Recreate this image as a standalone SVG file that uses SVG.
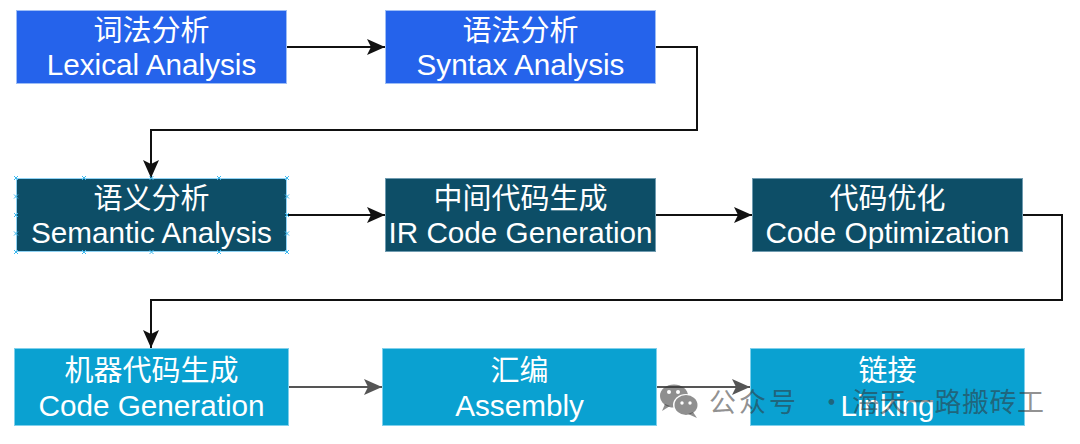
<svg xmlns="http://www.w3.org/2000/svg" xmlns:xlink="http://www.w3.org/1999/xlink" width="1080" height="444" viewBox="0 0 1080 444">
<style>
.t{font-family:"Liberation Sans","Noto Sans CJK SC",sans-serif;font-size:29px;fill:#ffffff;text-anchor:middle}
.e{font-size:29.7px}
.r1{fill:#2563eb;stroke:#9dbdf6;stroke-width:1}
.r2{fill:#0d4e67;stroke:#6f9bb0;stroke-width:1}
.r3{fill:#0aa1d1;stroke:#7fd0ec;stroke-width:1}
.c{fill:none;stroke:#111111;stroke-width:2}
.g{fill:none;stroke:#555555;stroke-width:2}
.hx{fill:none;stroke:#3bb8ee;stroke-width:1}
.wm{font-family:"Noto Sans CJK SC","Liberation Sans",sans-serif;font-size:27px;fill:#333333;fill-opacity:0.55}
</style>
<defs>
<marker id="ab" viewBox="0 0 18 16" markerUnits="userSpaceOnUse" markerWidth="18" markerHeight="16" refX="18" refY="8" orient="auto">
<path d="M0,0 L18,8 L0,16 L4,8 Z" fill="#111111"/>
</marker>
<marker id="ag" viewBox="0 0 18 16" markerUnits="userSpaceOnUse" markerWidth="18" markerHeight="16" refX="18" refY="8" orient="auto">
<path d="M0,0 L18,8 L0,16 L4,8 Z" fill="#555555"/>
</marker>
<path id="hx" class="hx" d="M-2,-2 L2,2 M-2,2 L2,-2"/>
</defs>

<g id="connectors">
<path class="c" d="M287,47 H385" marker-end="url(#ab)"/>
<path class="c" d="M655,47 H697 V130 H151 V178" marker-end="url(#ab)"/>
<path class="c" d="M287,215 H385" marker-end="url(#ab)"/>
<path class="c" d="M655,215 H752" marker-end="url(#ab)"/>
<path class="c" d="M1022,215 H1062 V300 H151 V348" marker-end="url(#ab)"/>
<path class="g" d="M288,387 H382" marker-end="url(#ag)"/>
<path class="g" d="M656,387 H750" marker-end="url(#ag)"/>
</g>

<g id="lexical">
<rect class="r1" x="16.5" y="10.5" width="270" height="73"/>
<text class="t" x="151.5" y="41">词法分析</text>
<text class="t e" x="151.5" y="75">Lexical Analysis</text>
</g>
<g id="syntax">
<rect class="r1" x="385.5" y="10.5" width="270" height="73"/>
<text class="t" x="520.5" y="41">语法分析</text>
<text class="t e" x="520.5" y="75">Syntax Analysis</text>
</g>
<g id="semantic">
<rect class="r2" x="16.5" y="178.5" width="270" height="73" style="stroke:#8fd3f5"/>
<text class="t" x="151.5" y="209">语义分析</text>
<text class="t e" x="151.5" y="243">Semantic Analysis</text>
<use href="#hx" x="16" y="178"/><use href="#hx" x="84" y="178"/><use href="#hx" x="151.5" y="178"/><use href="#hx" x="219" y="178"/><use href="#hx" x="287" y="178"/>
<use href="#hx" x="16" y="252"/><use href="#hx" x="84" y="252"/><use href="#hx" x="151.5" y="252"/><use href="#hx" x="219" y="252"/><use href="#hx" x="287" y="252"/>
<use href="#hx" x="16" y="196.5"/><use href="#hx" x="16" y="215"/><use href="#hx" x="16" y="233.5"/>
<use href="#hx" x="287" y="196.5"/><use href="#hx" x="287" y="215"/><use href="#hx" x="287" y="233.5"/>
</g>
<g id="ir">
<rect class="r2" x="385.5" y="178.5" width="270" height="73"/>
<text class="t" x="520.5" y="209">中间代码生成</text>
<text class="t e" x="520.5" y="243">IR Code Generation</text>
</g>
<g id="optimization">
<rect class="r2" x="752.5" y="178.5" width="270" height="73"/>
<text class="t" x="887.5" y="209">代码优化</text>
<text class="t e" x="887.5" y="243">Code Optimization</text>
</g>
<g id="codegen">
<rect class="r3" x="14.5" y="348.5" width="274" height="77"/>
<text class="t" x="151.5" y="381">机器代码生成</text>
<text class="t e" x="151.5" y="416">Code Generation</text>
</g>
<g id="assembly">
<rect class="r3" x="382.5" y="348.5" width="274" height="77"/>
<text class="t" x="519.5" y="381">汇编</text>
<text class="t e" x="519.5" y="416">Assembly</text>
</g>
<g id="linking">
<rect class="r3" x="750.5" y="348.5" width="274" height="77"/>
<text class="t" x="887.5" y="381">链接</text>
<text class="t e" x="887.5" y="416">Linking</text>
</g>

<g id="watermark">
<g fill="#333333" fill-opacity="0.55">
<ellipse cx="674" cy="396" rx="14" ry="11.5"/>
<path d="M665,404 L662,411 L670,406 Z"/>
</g>
<ellipse cx="686" cy="405" rx="13" ry="11" fill="#ffffff"/>
<g fill="#333333" fill-opacity="0.55">
<ellipse cx="686" cy="405" rx="11.5" ry="10"/>
<path d="M693,412 L697,418 L688,414 Z"/>
</g>
<g fill="#ffffff">
<circle cx="669" cy="392" r="2"/><circle cx="678" cy="392" r="2"/>
<circle cx="682" cy="403" r="1.7"/><circle cx="690" cy="403" r="1.7"/>
</g>
<text class="wm" y="412"><tspan x="709" letter-spacing="3">公众号</tspan><tspan x="818">·</tspan><tspan x="852" letter-spacing="0.5">海天一路搬砖工</tspan></text>
</g>
</svg>
